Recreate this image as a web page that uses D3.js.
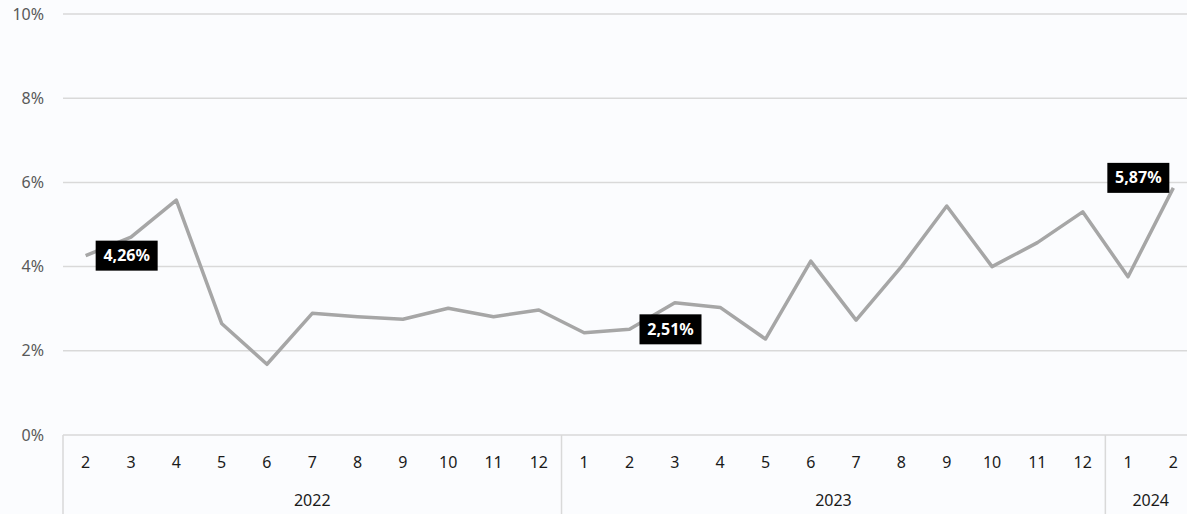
<!DOCTYPE html>
<html>
<head>
<meta charset="utf-8">
<script src="https://cdn.jsdelivr.net/npm/d3@7/dist/d3.min.js"></script>
<style>
  html, body { margin: 0; padding: 0; background: #fbfcfe; }
  svg { display: block; font-family: "Noto Sans", sans-serif; }
</style>
</head>
<body>
<div id="stage"></div>
<script>
// monthly rate, Feb 2022 - Feb 2024
var years = ["2022", "2023", "2024"];
var monthsByYear = [
  ["2","3","4","5","6","7","8","9","10","11","12"],
  ["1","2","3","4","5","6","7","8","9","10","11","12"],
  ["1","2"]
];
var values = [
  4.26, 4.70, 5.58, 2.65, 1.68, 2.89, 2.81, 2.75, 3.01, 2.81, 2.97,
  2.43, 2.51, 3.14, 3.03, 2.28, 4.13, 2.73, 4.00, 5.44, 4.00, 4.57, 5.30,
  3.76, 5.87
];
var labelled = [0, 12, 24];
var yTicks = [0, 2, 4, 6, 8, 10];

var W = 1187, H = 514;
var plotLeft = 63, plotRight = 1196, plotTop = 14, plotBottom = 435;

// flatten categories
var cats = [];
years.forEach(function(yr, i){
  monthsByYear[i].forEach(function(m){
    cats.push({key: yr + "-" + m, year: yr, month: m});
  });
});
var points = cats.map(function(c, i){ return {key: c.key, value: values[i], idx: i}; });

var svg = d3.select("#stage").append("svg")
  .attr("width", W).attr("height", H);

var x = d3.scaleBand().domain(cats.map(function(c){ return c.key; }))
  .range([plotLeft, plotRight]).padding(0);
var y = d3.scaleLinear().domain([0, 10]).range([plotBottom, plotTop]);

// gridlines
svg.append("g").selectAll("line")
  .data(yTicks).enter().append("line")
  .attr("x1", plotLeft).attr("x2", W)
  .attr("y1", function(d){ return y(d); })
  .attr("y2", function(d){ return y(d); })
  .attr("stroke", "#d9d9d9").attr("stroke-width", 1.5);

// y labels
svg.append("g").selectAll("text")
  .data(yTicks).enter().append("text")
  .attr("x", 44).attr("y", function(d){ return y(d); })
  .attr("dy", "0.35em")
  .attr("text-anchor", "end")
  .attr("fill", "#595959")
  .style("font-size", "16px")
  .text(function(d){ return d + "%"; });

// month labels
svg.append("g").selectAll("text")
  .data(cats).enter().append("text")
  .attr("x", function(d){ return x(d.key) + x.bandwidth()/2; })
  .attr("y", 462).attr("dy", "0.35em")
  .attr("text-anchor", "middle")
  .attr("fill", "#1a1a1a")
  .style("font-size", "16px")
  .text(function(d){ return d.month; });

// year groups
var yearSpans = years.map(function(yr){
  var ks = cats.filter(function(c){ return c.year == yr; });
  var x0 = x(ks[0].key), x1 = x(ks[ks.length-1].key) + x.bandwidth();
  return {year: yr, x0: x0, x1: x1};
});
svg.append("g").selectAll("line")
  .data(yearSpans).enter().append("line")
  .attr("x1", function(d){ return d.x0; })
  .attr("x2", function(d){ return d.x0; })
  .attr("y1", plotBottom).attr("y2", H)
  .attr("stroke", "#d9d9d9").attr("stroke-width", 1.5);
svg.append("g").selectAll("text")
  .data(yearSpans).enter().append("text")
  .attr("x", function(d){ return (d.x0 + d.x1) / 2; })
  .attr("y", 500).attr("dy", "0.35em")
  .attr("text-anchor", "middle")
  .attr("fill", "#1a1a1a")
  .style("font-size", "16px")
  .text(function(d){ return d.year; });

// the line
var line = d3.line()
  .x(function(d){ return x(d.key) + x.bandwidth()/2; })
  .y(function(d){ return y(d.value); });
svg.append("path")
  .datum(points)
  .attr("d", line)
  .attr("fill", "none")
  .attr("stroke", "#a6a6a6")
  .attr("stroke-width", 3.5)
  .attr("stroke-linejoin", "round");

// data labels
var lab = svg.append("g").selectAll("g")
  .data(points.filter(function(p){ return labelled.indexOf(p.idx) >= 0; }))
  .enter().append("g");
lab.each(function(d){
  var g = d3.select(this);
  var px = x(d.key) + x.bandwidth()/2, py = y(d.value);
  var t = g.append("text")
    .attr("fill", "#fff")
    .style("font-size", "16px")
    .style("font-weight", "bold")
    .attr("dy", "0.35em")
    .text(d3.format(".2f")(d.value).replace(".", ",") + "%");
  var bw = 62, bh = 30;
  var bx, by;
  if (d.idx == points.length - 1) { bx = px - 4 - bw; by = py - 10 - bh/2; }
  else { bx = px + 10; by = py - bh/2; }
  g.insert("rect", "text")
    .attr("x", bx).attr("y", by).attr("width", bw).attr("height", bh)
    .attr("fill", "#000");
  t.attr("x", bx + bw/2).attr("y", by + bh/2).attr("text-anchor", "middle");
});
</script>
</body>
</html>
